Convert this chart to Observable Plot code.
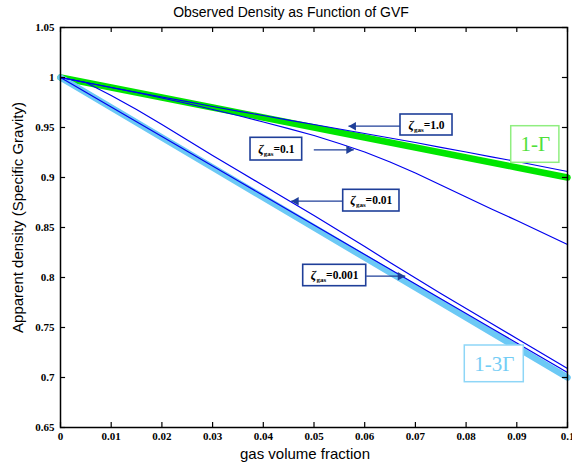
<!DOCTYPE html>
<html><head><meta charset="utf-8">
<script src="https://cdn.jsdelivr.net/npm/d3@7"></script>
<script src="https://cdn.jsdelivr.net/npm/@observablehq/plot@0.6"></script>
<style>body{margin:0;background:#fff}</style>
</head><body><div id="chart"></div>
<script>
// ---- data ----
const gvf = [0, 0.01, 0.02, 0.03, 0.04, 0.05, 0.06, 0.07, 0.08, 0.09, 0.1];
const gvfFine = [0, 0.005, 0.01, 0.015, 0.02, 0.025, 0.03, 0.035, 0.04, 0.045, 0.05,
                 0.055, 0.06, 0.065, 0.07, 0.075, 0.08, 0.085, 0.09, 0.095, 0.1];
const oneMinusGamma  = [1, 0.99, 0.98, 0.97, 0.96, 0.95, 0.94, 0.93, 0.92, 0.91, 0.90];
const oneMinus3Gamma = [1, 0.97, 0.94, 0.91, 0.88, 0.85, 0.82, 0.79, 0.76, 0.73, 0.70];
const zeta1    = [1, 0.995, 0.99, 0.9852, 0.9805, 0.9758, 0.971, 0.9663, 0.962, 0.9573, 0.953,
                  0.9485, 0.944, 0.9395, 0.935, 0.9302, 0.9255, 0.9207, 0.916, 0.911, 0.906];
const zeta01   = [1, 0.995, 0.99, 0.985, 0.9795, 0.974, 0.968, 0.962, 0.9555, 0.9488, 0.942,
                  0.934, 0.9255, 0.9155, 0.9045, 0.8925, 0.8805, 0.8685, 0.857, 0.845, 0.833];
const zeta001  = [1, 0.995, 0.982, 0.968, 0.953, 0.9375, 0.922, 0.907, 0.892, 0.877, 0.862,
                  0.8465, 0.831, 0.815, 0.7995, 0.784, 0.769, 0.754, 0.739, 0.724, 0.709];
const zeta0001 = [1, 0.9852, 0.9705, 0.9557, 0.941, 0.9262, 0.9115, 0.8967, 0.882, 0.8672, 0.8525,
                  0.8377, 0.823, 0.8082, 0.7935, 0.7787, 0.764, 0.7492, 0.7345, 0.7197, 0.705];

const xTicks = [0, 0.01, 0.02, 0.03, 0.04, 0.05, 0.06, 0.07, 0.08, 0.09, 0.1];
const xTickLabels = ["0", "0.01", "0.02", "0.03", "0.04", "0.05", "0.06", "0.07", "0.08", "0.09", "0.1"];
const yTicks = [0.65, 0.7, 0.75, 0.8, 0.85, 0.9, 0.95, 1, 1.05];
const yTickLabels = ["0.65", "0.7", "0.75", "0.8", "0.85", "0.9", "0.95", "1", "1.05"];

// annotation boxes (data units) and arrows
const zetaValues = ["=1.0", "=0.1", "=0.01", "=0.001"];
const boxX1 = [0.06706, 0.03748, 0.05576, 0.04787];
const boxX2 = [0.07732, 0.04767, 0.06686, 0.0603];
const boxY1 = [0.963, 0.9397, 0.8877, 0.8127];
const boxY2 = [0.942, 0.917, 0.866, 0.7913];
const arrowFrom = [0.0671, 0.04996, 0.05556, 0.0603];
const arrowTo   = [0.0568, 0.05785, 0.0455, 0.068];
const arrowY    = [0.9513, 0.9277, 0.8763, 0.8013];

const formulaLabels = ["1-Γ", "1-3Γ"];
const formulaX1 = [0.0889, 0.07974];
const formulaX2 = [0.0984, 0.09138];
const formulaY1 = [0.9513, 0.732];
const formulaY2 = [0.9147, 0.6953];
const formulaColors = ["#4fe03a", "#74cdf5"];
const formulaBorders = ["#90ee80", "#8ed6f7"];

// ---- build tables ----
const thick = [
  ...gvf.map((x, i) => ({x, y: oneMinusGamma[i], s: "1-Γ"})),
  ...gvf.map((x, i) => ({x, y: oneMinus3Gamma[i], s: "1-3Γ"}))
];
const thin = [
  ...gvfFine.map((x, i) => ({x, y: zeta1[i], s: "z1"})),
  ...gvfFine.map((x, i) => ({x, y: zeta01[i], s: "z01"})),
  ...gvfFine.map((x, i) => ({x, y: zeta001[i], s: "z001"})),
  ...gvfFine.map((x, i) => ({x, y: zeta0001[i], s: "z0001"}))
];
const boxes = zetaValues.map((v, i) => ({v, x1: boxX1[i], x2: boxX2[i], y1: boxY1[i], y2: boxY2[i],
  a1: arrowFrom[i], a2: arrowTo[i], ay: arrowY[i], dir: Math.sign(arrowTo[i] - arrowFrom[i])}));
const formulas = formulaLabels.map((t, i) => ({t, x1: formulaX1[i], x2: formulaX2[i], y1: formulaY1[i], y2: formulaY2[i],
  c: formulaColors[i], b: formulaBorders[i]}));

const navy = "#1f3f99";
const sans = "Liberation Sans, Arial, sans-serif";
const serif = "Liberation Serif, Times New Roman, serif";

const chart = Plot.plot({
  width: 572, height: 462,
  marginLeft: 60, marginRight: 5, marginTop: 27, marginBottom: 35,
  style: {fontFamily: serif, fontSize: "11px", background: "white", color: "black", overflow: "visible"},
  x: {domain: [0, 0.1], axis: null},
  y: {domain: [0.65, 1.05], axis: null},
  marks: [
    Plot.line(thick, {x: "x", y: "y", z: "s", stroke: d => d.s === "1-Γ" ? "#00e600" : "#6cc9f5", strokeWidth: 6.5, strokeLinecap: "round"}),
    Plot.line(thin, {x: "x", y: "y", z: "s", stroke: "#0000ee", strokeWidth: 1.2}),
    Plot.frame({stroke: "black", strokeWidth: 1.5}),
    Plot.ruleX(xTicks, {y1: 0.65, y2: 0.655, stroke: "black", strokeWidth: 1.2}),
    Plot.ruleX(xTicks, {y1: 1.05, y2: 1.045, stroke: "black", strokeWidth: 1.2}),
    Plot.ruleY(yTicks, {x1: 0, x2: 0.001, stroke: "black", strokeWidth: 1.2}),
    Plot.ruleY(yTicks, {x1: 0.1, x2: 0.099, stroke: "black", strokeWidth: 1.2}),
    Plot.axisX(xTicks, {tickSize: 0, tickPadding: 5, tickFormat: d => xTickLabels[xTicks.indexOf(d)], fontWeight: "bold", label: null}),
    Plot.axisY(yTicks, {tickSize: 0, tickPadding: 6, tickFormat: d => yTickLabels[yTicks.indexOf(d)], fontWeight: "bold", label: null}),
    // arrows
    Plot.link(boxes, {x1: "a1", x2: "a2", y1: "ay", y2: "ay", stroke: navy, strokeWidth: 1.3}),
    Plot.dot(boxes.filter(d => d.dir > 0), {x: "a2", y: "ay", symbol: "triangle", r: 3.2, fill: navy, stroke: "none", rotate: 90, dx: -5}),
    Plot.dot(boxes.filter(d => d.dir < 0), {x: "a2", y: "ay", symbol: "triangle", r: 3.2, fill: navy, stroke: "none", rotate: -90, dx: 5}),
    // boxes
    Plot.rect(boxes, {x1: "x1", x2: "x2", y1: "y1", y2: "y2", fill: "white", stroke: navy, strokeWidth: 1.6}),
    Plot.text(boxes, {x: d => (d.x1 + d.x2) / 2, y: d => (d.y1 + d.y2) / 2, text: d => "ζgas" + d.v,
      fontWeight: "bold", fontSize: 11.5, fontFamily: serif, fill: "black"}),
    Plot.rect(formulas, {x1: "x1", x2: "x2", y1: "y1", y2: "y2", fill: "white", stroke: "b", strokeWidth: 1.5}),
    Plot.text(formulas, {x: d => (d.x1 + d.x2) / 2, y: d => (d.y1 + d.y2) / 2, text: "t", fill: "c", fontSize: 21, fontFamily: serif}),
    // titles
    Plot.text(["Observed Density as Function of GVF"], {frameAnchor: "top", lineAnchor: "middle", textAnchor: "middle", dy: -15, dx: -23, fontFamily: sans, fontSize: 14, fill: "black"}),
    Plot.text(["gas volume fraction"], {frameAnchor: "bottom", lineAnchor: "middle", textAnchor: "middle", dy: 27, dx: -9, fontFamily: sans, fontSize: 15, fill: "black"}),
    Plot.text(["Apparent density (Specific Gravity)"], {frameAnchor: "left", lineAnchor: "middle", textAnchor: "middle", dx: -42, dy: -10, rotate: -90, fontFamily: sans, fontSize: 15, fill: "black"})
  ]
});
document.getElementById("chart").appendChild(chart);

// subscript formatting for ζgas labels
chart.querySelectorAll("text").forEach(t => {
  const s = t.textContent;
  if (s.startsWith("ζgas")) {
    const rest = s.slice(4);
    while (t.firstChild) t.removeChild(t.firstChild);
    const ns = "http://www.w3.org/2000/svg";
    const a = document.createElementNS(ns, "tspan"); a.textContent = "ζ"; a.setAttribute("font-style", "italic"); a.setAttribute("font-size", "12.5");
    const b = document.createElementNS(ns, "tspan"); b.textContent = "gas"; b.setAttribute("font-size", "7"); b.setAttribute("dy", "3");
    const c = document.createElementNS(ns, "tspan"); c.textContent = rest; c.setAttribute("dy", "-3");
    t.appendChild(a); t.appendChild(b); t.appendChild(c);
  }
});
</script>
</body></html>
